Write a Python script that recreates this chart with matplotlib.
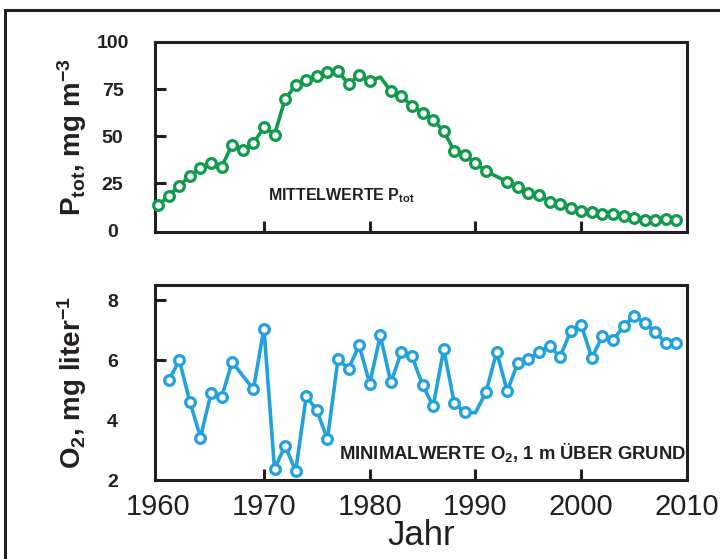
import matplotlib
matplotlib.use('Agg')
import matplotlib.pyplot as plt
from matplotlib.patches import Rectangle

# ---------------- data ----------------
years_p = [1960, 1961, 1962, 1963, 1964, 1965, 1966, 1967, 1968, 1969,
           1970, 1971, 1972, 1973, 1974, 1975, 1976, 1977, 1978, 1979,
           1980, 1981, 1982, 1983, 1984, 1985, 1986, 1987, 1988, 1989,
           1990, 1991, 1993, 1994, 1995, 1996, 1997, 1998, 1999,
           2000, 2001, 2002, 2003, 2004, 2005, 2006, 2007, 2008, 2009]
p_tot = [13.1, 18.3, 23.6, 28.8, 33.1, 35.7, 33.6, 45.5, 42.7, 46.2,
         54.6, 50.8, 69.6, 77.1, 79.6, 81.8, 84.3, 84.6, 77.5, 82.4,
         79.2, 81.3, 73.9, 71.3, 65.8, 62.4, 58.7, 52.5, 42.0, 39.7,
         35.9, 31.3, 25.7, 23.1, 19.9, 18.7, 15.2, 13.9, 11.7,
         10.4, 9.4, 8.7, 8.7, 7.3, 6.4, 5.2, 5.2, 5.9, 5.2]
p_no_marker_years = [1981]

years_o2 = [1961, 1962, 1963, 1964, 1965, 1966, 1967, 1969,
            1970, 1971, 1972, 1973, 1974, 1975, 1976, 1977, 1978, 1979,
            1980, 1981, 1982, 1983, 1984, 1985, 1986, 1987, 1988, 1989,
            1990, 1991, 1992, 1993, 1994, 1995, 1996, 1997, 1998, 1999,
            2000, 2001, 2002, 2003, 2004, 2005, 2006, 2007, 2008, 2009]
o2_min = [5.33, 6.0, 4.61, 3.42, 4.91, 4.78, 5.94, 5.03,
          7.06, 2.37, 3.14, 2.3, 4.8, 4.33, 3.36, 6.03, 5.72, 6.5,
          5.22, 6.83, 5.26, 6.28, 6.13, 5.17, 4.47, 6.37, 4.56, 4.26,
          4.25, 4.94, 6.28, 4.97, 5.91, 6.03, 6.28, 6.48, 6.11, 6.98,
          7.17, 6.09, 6.8, 6.67, 7.14, 7.47, 7.26, 6.94, 6.58, 6.58]
o2_no_marker_years = [1990]

x_ticks = [1960, 1970, 1980, 1990, 2000, 2010]
p_ticks = [0, 25, 50, 75, 100]
o2_ticks = [2, 4, 6, 8]

# ---------------- style ----------------
GREEN = '#109a4c'
BLUE = '#22a2dc'
INK = '#231f20'

plt.rcParams['font.family'] = ['Liberation Sans', 'DejaVu Sans']
plt.rcParams['mathtext.fontset'] = 'custom'
plt.rcParams['mathtext.rm'] = 'Liberation Sans:bold'
plt.rcParams['mathtext.it'] = 'Liberation Sans:bold'
plt.rcParams['mathtext.bf'] = 'Liberation Sans:bold'

fig = plt.figure(figsize=(7.2, 5.59), dpi=100)
fig.patch.set_facecolor('white')

# outer frame (open to right/bottom as in the reference crop)
frame = Rectangle((5 / 720, -0.2), 1.3, 1 - 10 / 559 + 0.2, transform=fig.transFigure,
                  fill=False, lw=2.2, ec=INK, clip_on=False)
fig.add_artist(frame)

ax1 = fig.add_axes([0.2153, 0.5850, 0.7389, 0.3399])
ax2 = fig.add_axes([0.2153, 0.1413, 0.7389, 0.3480])


def style_axes(ax):
    for s in ax.spines.values():
        s.set_linewidth(2.2)
        s.set_color(INK)
    ax.tick_params(direction='in', length=8, width=2.2, color=INK)


def hide_ticks(axis, ticks, hidden):
    for t, v in zip(axis.get_major_ticks(), ticks):
        if v in hidden:
            t.tick1line.set_visible(False)


def plot_series(ax, xs, ys, no_marker, color):
    idx = [i for i, x in enumerate(xs) if x not in no_marker]
    ax.plot(xs, ys, color=color, lw=2.6, marker='o', ms=7, mfc='white',
            mec=color, mew=2.3, markevery=idx, clip_on=False, zorder=3)


# ---- top panel ----
style_axes(ax1)
plot_series(ax1, years_p, p_tot, p_no_marker_years, GREEN)
ax1.set_xlim(1959.7, 2010)
ax1.set_ylim(-1, 100)
ax1.set_xticks(x_ticks)
ax1.set_xticklabels([])
ax1.set_yticks(p_ticks)
ax1.set_yticklabels([str(v) for v in p_ticks], fontsize=14, fontweight='bold',
                    color=INK, ha='center')
ax1.tick_params(axis='y', pad=30.5)
hide_ticks(ax1.xaxis, x_ticks, (1960, 2010))
hide_ticks(ax1.yaxis, p_ticks, (0, 100))
ax1.text(-0.155, 0.5, r'P$_\mathrm{tot}$, mg m$^{-3}$', transform=ax1.transAxes,
         rotation=90, ha='center', va='center', fontsize=20, fontweight='bold', color=INK)
ax1.text(0.212, 0.165, r'MITTELWERTE P$_\mathrm{tot}$', transform=ax1.transAxes,
         ha='left', va='baseline', fontsize=11.5, fontweight='bold', color=INK)

# ---- bottom panel ----
style_axes(ax2)
plot_series(ax2, years_o2, o2_min, o2_no_marker_years, BLUE)
ax2.set_xlim(1959.7, 2010)
ax2.set_ylim(2, 8.5)
ax2.set_xticks(x_ticks)
ax2.set_xticklabels([str(v) for v in x_ticks], fontsize=21, color=INK)
ax2.tick_params(axis='x', pad=9)
ax2.set_yticks(o2_ticks)
ax2.set_yticklabels([str(v) for v in o2_ticks], fontsize=14, fontweight='bold',
                    color=INK, ha='center')
ax2.tick_params(axis='y', pad=30.5)
hide_ticks(ax2.xaxis, x_ticks, (1960, 2010))
hide_ticks(ax2.yaxis, o2_ticks, (2, 4))
ax2.text(-0.155, 0.5, r'O$_2$, mg liter$^{-1}$', transform=ax2.transAxes,
         rotation=90, ha='center', va='center', fontsize=20, fontweight='bold', color=INK)
ax2.text(0.999, 0.106, r'MINIMALWERTE O$_2$, 1 m ÜBER GRUND', transform=ax2.transAxes,
         ha='right', va='baseline', fontsize=13.3, fontweight='bold', color=INK)
ax2.set_xlabel('Jahr', fontsize=25, color=INK, labelpad=-1)

fig.savefig('out.png', dpi=100)
